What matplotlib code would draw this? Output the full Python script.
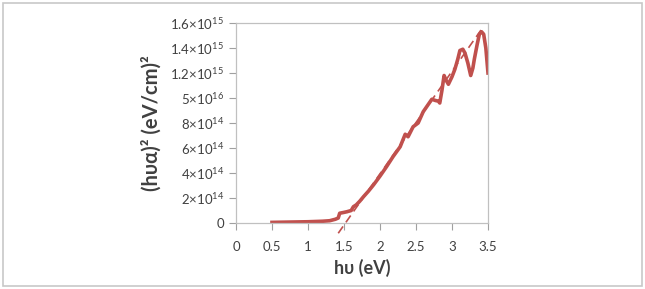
import matplotlib
matplotlib.use("Agg")
import matplotlib.pyplot as plt
from matplotlib.patches import Rectangle
import numpy as np

# data (energy in eV, (h nu alpha)^2 in units of 1e14)
energy = [0.5, 0.6, 0.7, 0.8, 0.9, 1.0, 1.1, 1.2, 1.3, 1.38, 1.42, 1.44, 1.5, 1.54, 1.6, 1.63,
          1.67, 1.72, 1.77, 1.84, 1.91, 2.0, 2.09, 2.18, 2.28, 2.35, 2.39, 2.46, 2.53, 2.60,
          2.66, 2.72, 2.77, 2.81, 2.83, 2.86, 2.89, 2.92, 2.95, 3.0, 3.04, 3.08, 3.11, 3.15,
          3.18, 3.22, 3.26, 3.29, 3.31, 3.35, 3.38, 3.41, 3.44, 3.47, 3.5]
absorp = [0.05, 0.06, 0.07, 0.08, 0.09, 0.1, 0.12, 0.14, 0.18, 0.3, 0.4, 0.78, 0.85, 0.9, 1.0, 1.3,
          1.45, 1.75, 2.1, 2.55, 3.05, 3.75, 4.5, 5.3, 6.1, 7.1, 6.9, 7.7, 8.0, 8.9,
          9.4, 9.9, 9.8, 9.75, 9.6, 10.6, 11.8, 11.4, 11.1, 11.7, 12.3, 13.1, 13.8, 13.9,
          13.6, 12.8, 11.8, 12.4, 13.1, 14.3, 15.1, 15.3, 15.1, 14.0, 12.0]
fit_x = [1.42, 3.43]
fit_slope = 8.2    # 1e14 per eV
fit_x0 = 1.52      # band gap intercept (eV)

xticks = [0, 0.5, 1, 1.5, 2, 2.5, 3, 3.5]
xtick_labels = ["0", "0.5", "1", "1.5", "2", "2.5", "3", "3.5"]
yticks = [0, 2, 4, 6, 8, 10, 12, 14, 16]
ytick_labels = ["0", r"$2{\times}10^{14}$", r"$4{\times}10^{14}$", r"$6{\times}10^{14}$",
                r"$8{\times}10^{14}$", r"$5{\times}10^{16}$", r"$1.2{\times}10^{15}$",
                r"$1.4{\times}10^{15}$", r"$1.6{\times}10^{15}$"]

plt.rcParams['font.family'] = ['Lato', 'DejaVu Sans']
plt.rcParams['mathtext.fontset'] = 'custom'
plt.rcParams['mathtext.rm'] = 'Lato'
plt.rcParams['mathtext.it'] = 'Lato:italic'
plt.rcParams['mathtext.bf'] = 'Lato:bold'

fig = plt.figure(figsize=(6.45, 2.89), dpi=100)
fig.patches.append(Rectangle((0.005, 0.01), 0.99, 0.98, transform=fig.transFigure,
                             fill=False, edgecolor='#c8c8c8', linewidth=1.2))
ax = fig.add_axes([236/645, 1-223/289, (488-236)/645, (223-23)/289])

red = '#C0504D'
ax.plot(energy, absorp, color=red, linewidth=2.6, solid_joinstyle='round')
fx = np.array(fit_x)
ax.plot(fx, fit_slope*(fx - fit_x0), color=red, linewidth=1.2, linestyle=(0, (5, 3)),
        clip_on=False)

ax.set_xlim(0, 3.5)
ax.set_ylim(0, 16)
ax.set_xticks(xticks)
ax.set_xticklabels(xtick_labels)
ax.set_yticks(yticks)
ax.set_yticklabels(ytick_labels)
for s in ax.spines.values():
    s.set_color('#c0c0c0')
    s.set_linewidth(0.9)
ax.tick_params(axis='both', colors='#a0a0a0', labelcolor='#404040', labelsize=9.5,
               length=5, width=0.8, direction='out')
ax.tick_params(axis='x', pad=8)
ax.set_xlabel("hυ (eV)", fontsize=13, fontweight='bold', color='#404040', labelpad=4)
ax.set_ylabel("(hυα)² (eV/cm)²", fontsize=14.5, fontweight='bold', color='#404040', labelpad=6)

fig.savefig("out.png", dpi=100)
